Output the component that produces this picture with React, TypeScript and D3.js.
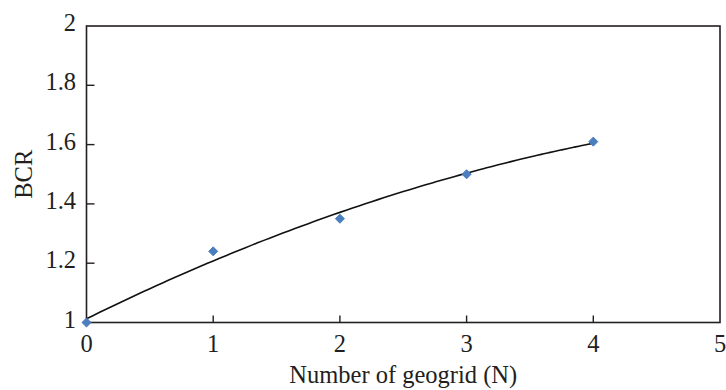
import React from "react";
import * as d3 from "d3";

// Measured BCR for each number of geogrid layers
const layers = [0, 1, 2, 3, 4];
const bcr = [1.0, 1.24, 1.35, 1.5, 1.61];
const xTicks = [0, 1, 2, 3, 4, 5];
const yTicks = [1, 1.2, 1.4, 1.6, 1.8, 2];

const W = 726;
const H = 390;
const M = { left: 86.5, right: 6, top: 26, bottom: 67.5 };
const FONT = "'Liberation Serif', 'Times New Roman', serif";
const INK = "#231f20";
const FS = 24.5;

// Least-squares second-order polynomial trendline
function quadFit(xs: number[], ys: number[]) {
  const s = (f: (x: number, y: number) => number) =>
    xs.reduce((acc, x, i) => acc + f(x, ys[i]), 0);
  const n = xs.length;
  const sx = s((x) => x), sx2 = s((x) => x * x), sx3 = s((x) => x ** 3), sx4 = s((x) => x ** 4);
  const sy = s((_, y) => y), sxy = s((x, y) => x * y), sx2y = s((x, y) => x * x * y);
  const A = [
    [n, sx, sx2, sy],
    [sx, sx2, sx3, sxy],
    [sx2, sx3, sx4, sx2y],
  ];
  for (let i = 0; i < 3; i++) {
    for (let k = i + 1; k < 3; k++) {
      const f = A[k][i] / A[i][i];
      for (let j = i; j < 4; j++) A[k][j] -= f * A[i][j];
    }
  }
  const c = A[2][3] / A[2][2];
  const b = (A[1][3] - A[1][2] * c) / A[1][1];
  const a = (A[0][3] - A[0][1] * b - A[0][2] * c) / A[0][0];
  return (x: number) => a + b * x + c * x * x;
}

export default function App() {
  const x = d3.scaleLinear().domain([0, 5]).range([M.left, W - M.right]);
  const y = d3.scaleLinear().domain([1, 2]).range([H - M.bottom, M.top]);
  const fit = quadFit(layers, bcr);
  const fitPts = d3.range(0, 4.0001, 0.05).map((v) => [v, fit(v)] as [number, number]);
  const line = d3
    .line<[number, number]>()
    .x((d) => x(d[0]))
    .y((d) => y(d[1]))
    .curve(d3.curveMonotoneX);
  const marker = d3.symbol().type(d3.symbolDiamond2).size(52)();

  const x0 = x(0), x1 = x(5), y0 = y(1), y1 = y(2);

  return (
    <svg
      width={W}
      height={H}
      style={{ position: "absolute", left: 0, top: 0, background: "#fff" }}
      fontFamily={FONT}
    >
      {/* frame */}
      <rect x={x0} y={y1} width={x1 - x0} height={y0 - y1} fill="none" stroke={INK} strokeWidth={1.6} />

      {/* inward ticks */}
      {xTicks.filter((t) => t > 0 && t < 5).map((t) => (
        <line key={"xt" + t} x1={x(t)} x2={x(t)} y1={y0} y2={y0 - 7} stroke={INK} strokeWidth={1.4} />
      ))}
      {yTicks.filter((t) => t > 1 && t < 2).map((t) => (
        <line key={"yt" + t} x1={x0} x2={x0 + 8} y1={y(t)} y2={y(t)} stroke={INK} strokeWidth={1.4} />
      ))}

      {/* tick labels */}
      {xTicks.map((t) => (
        <text key={"xl" + t} x={x(t)} y={352} textAnchor="middle" fontSize={FS} fill={INK}>
          {t}
        </text>
      ))}
      {yTicks.map((t) => (
        <text key={"yl" + t} x={76} y={y(t) + 5} textAnchor="end" fontSize={FS} fill={INK}>
          {d3.format("~g")(t)}
        </text>
      ))}

      {/* axis titles */}
      <text x={(x0 + x1) / 2} y={383} textAnchor="middle" fontSize={FS} fill={INK}>
        Number of geogrid (N)
      </text>
      <text
        transform={`translate(32, ${(y0 + y1) / 2}) rotate(-90)`}
        textAnchor="middle"
        fontSize={FS}
        fill={INK}
      >
        BCR
      </text>

      {/* trendline */}
      <path d={line(fitPts) ?? ""} fill="none" stroke="#111" strokeWidth={1.6} />

      {/* measured points */}
      {layers.map((n, i) => (
        <path
          key={"p" + n}
          d={marker ?? ""}
          transform={`translate(${x(n)},${y(bcr[i])})`}
          fill="#4a7ebf"
          stroke="#4a7ebf"
          strokeWidth={1}
          strokeLinejoin="round"
        />
      ))}
    </svg>
  );
}
